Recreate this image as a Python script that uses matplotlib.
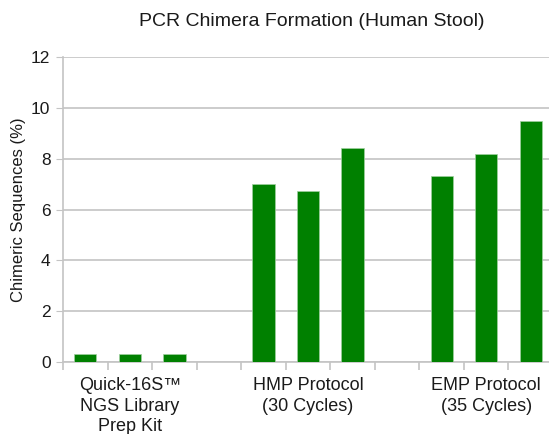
import matplotlib.pyplot as plt
import numpy as np

plt.rcParams['font.family'] = ['Liberation Sans', 'DejaVu Sans']

groups = ["Quick-16S\u2122\nNGS Library\nPrep Kit", "HMP Protocol\n(30 Cycles)", "EMP Protocol\n(35 Cycles)"]
quick_vals = [0.3, 0.3, 0.3]
hmp_vals = [7.0, 6.72, 8.43]
emp_vals = [7.32, 8.18, 9.48]
yticks = [0, 2, 4, 6, 8, 10, 12]

fig = plt.figure(figsize=(5.49, 4.34), dpi=100)
ax = fig.add_axes([63 / 549, 72 / 434, 490 / 549, 305 / 434])

green = "#008000"
grid_c = "#c4c4c4"
text_c = "#1a1a1a"

# 3 bars per group, one empty slot between groups
centers = []
x = 0
for vals in [quick_vals, hmp_vals, emp_vals]:
    pos = np.arange(x, x + len(vals))
    ax.bar(pos, vals, width=0.5, color=green, edgecolor="#a0d0a0", linewidth=0.5, zorder=3)
    centers.append(pos[1])
    x += len(vals) + 1

ax.set_xlim(-0.5, 10.5)
ax.set_ylim(0, 12)
ax.set_yticks(yticks)
ax.tick_params(axis='y', labelsize=12.5, length=5, color=grid_c, pad=4, labelcolor=text_c)
ax.yaxis.grid(True, color=grid_c, linewidth=1.2, zorder=0)

ax.set_xticks(centers)
ax.set_xticklabels(groups, fontsize=13, linespacing=1.25, color=text_c)
ax.tick_params(axis='x', length=0, pad=11)
ax.set_xticks(np.arange(-0.5, 11, 1), minor=True)
ax.tick_params(axis='x', which='minor', length=6, color=grid_c, width=1.2)

for s in ['top', 'right']:
    ax.spines[s].set_visible(False)
for s in ['left', 'bottom']:
    ax.spines[s].set_color(grid_c)
    ax.spines[s].set_linewidth(1.2)

ax.set_ylabel("Chimeric Sequences (%)", fontsize=12, labelpad=4, color=text_c)
fig.text(312 / 549, 1 - 22 / 434, "PCR Chimera Formation (Human Stool)", fontsize=14,
         ha='center', va='center', color=text_c)

fig.savefig("out.png", dpi=100)
